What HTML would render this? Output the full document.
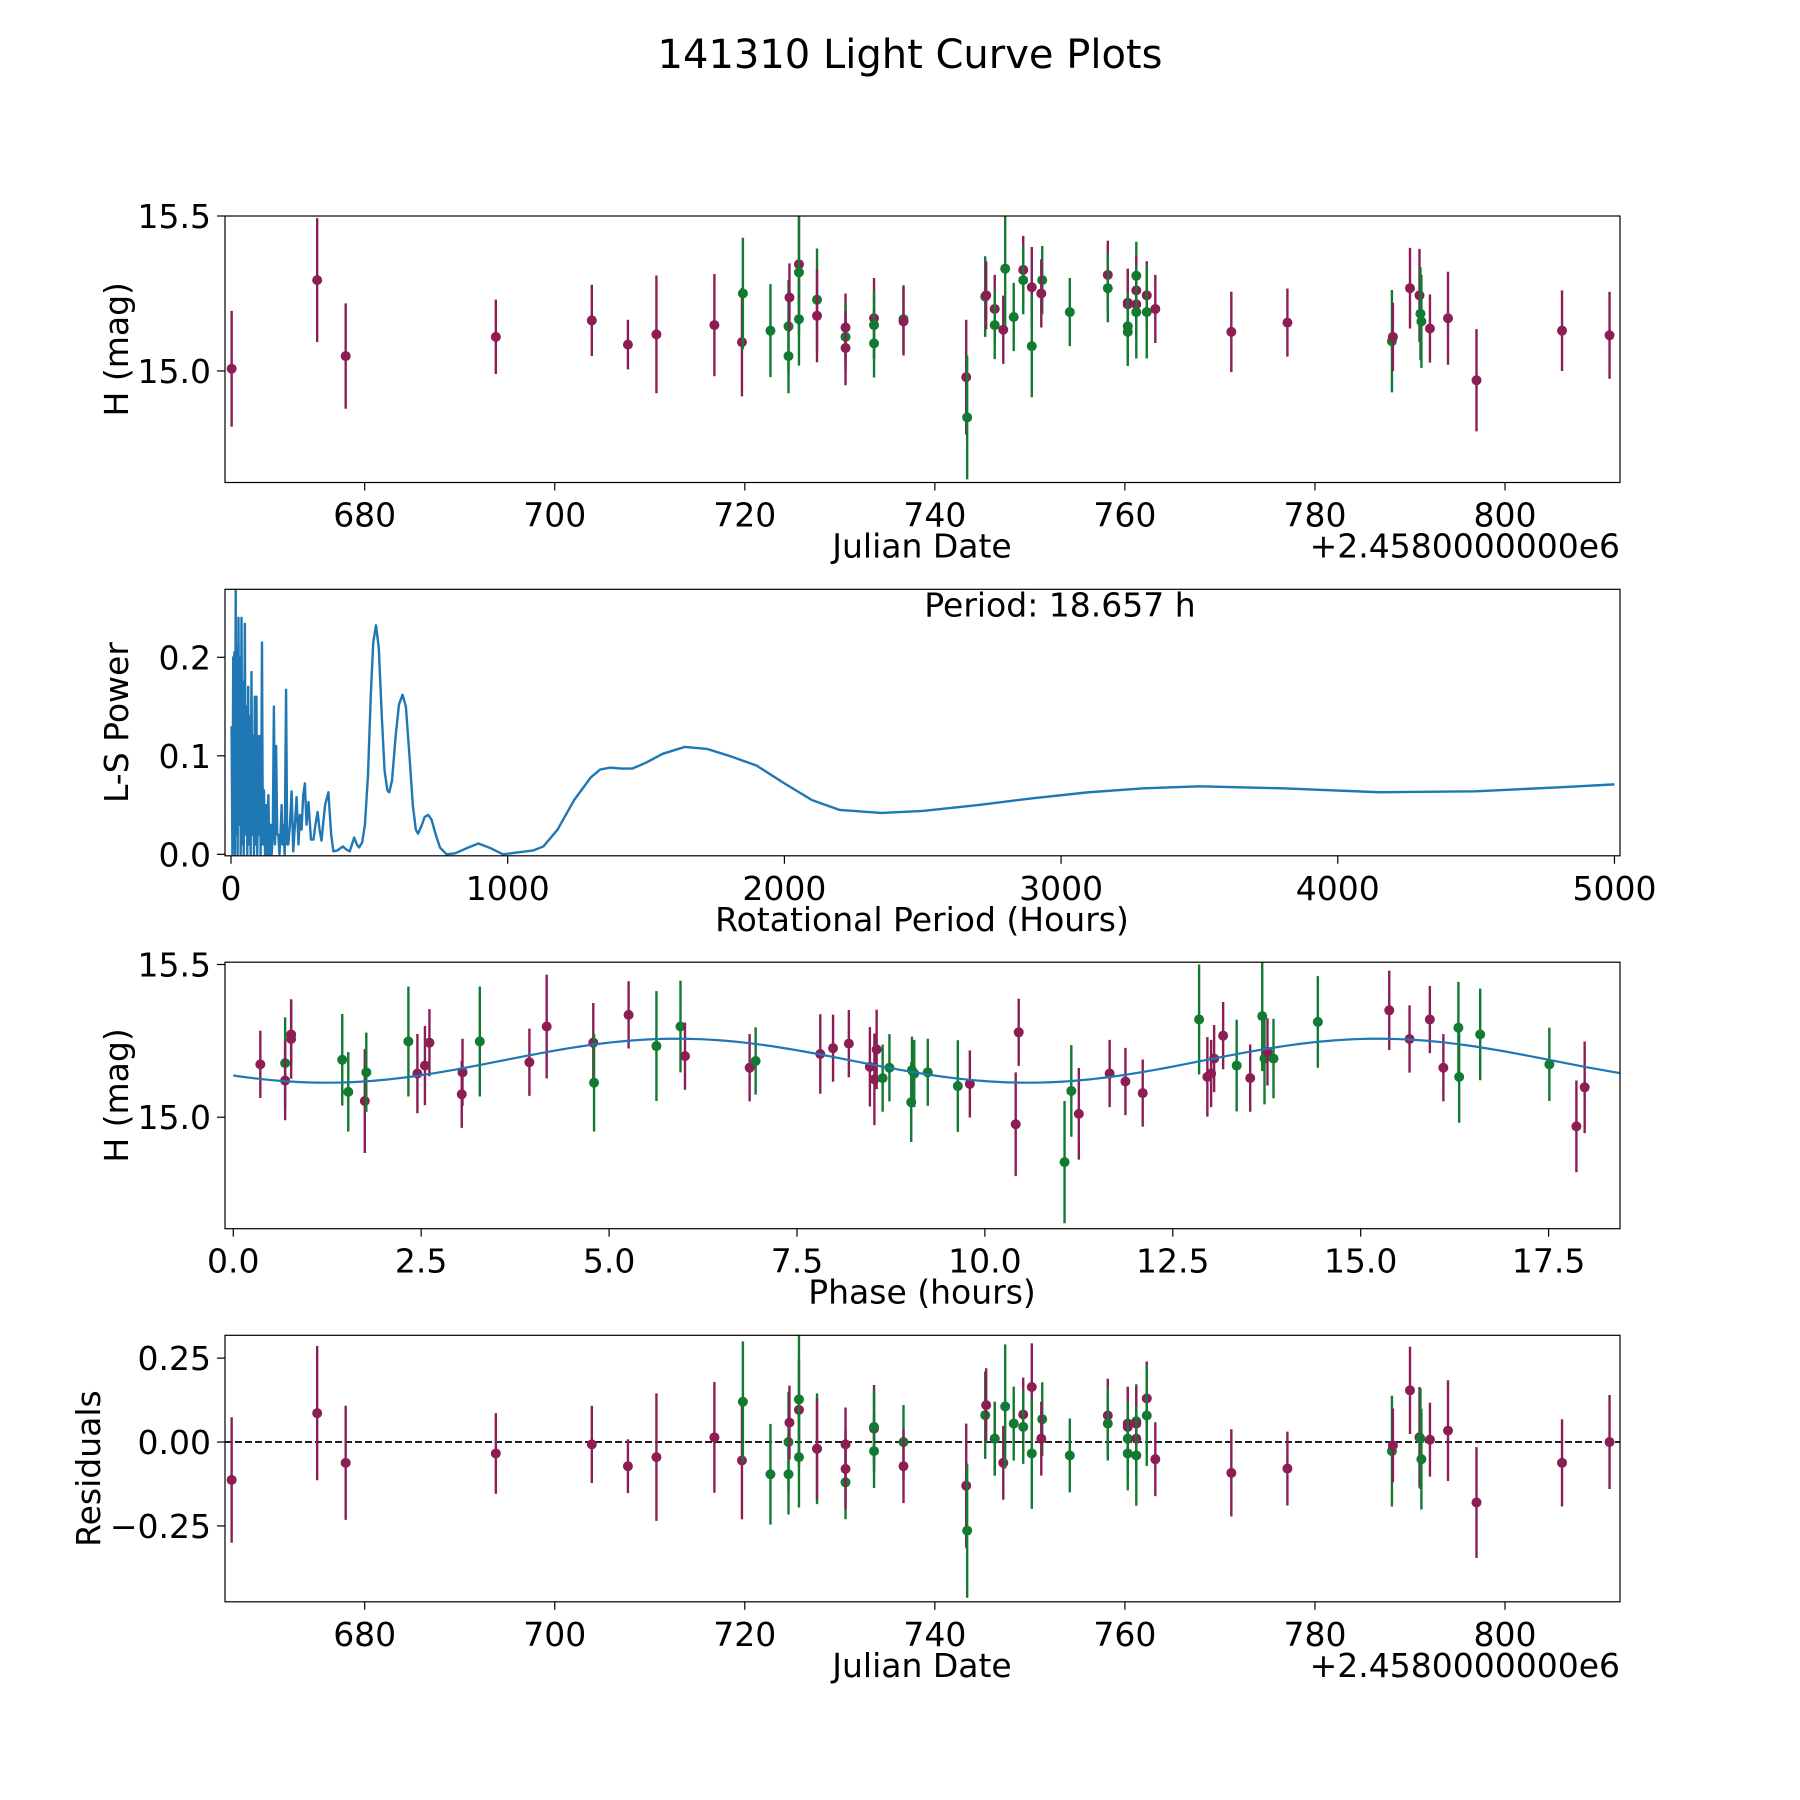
<!DOCTYPE html>
<html><head><meta charset="utf-8"><style>
html,body{margin:0;padding:0;background:#fff}
svg{display:block;font-family:"DejaVu Sans","Liberation Sans",sans-serif}
</style></head><body>
<svg id="fig" xmlns="http://www.w3.org/2000/svg" width="1800" height="1800" viewBox="0 0 1800 1800">
<rect width="1800" height="1800" fill="#fff"/>
<text x="910" y="68" font-size="40" text-anchor="middle">141310 Light Curve Plots</text>
</svg>
<script>
// ---- Panel 1 / 4 data (Julian date offset, magnitude, error, filter) ----
const jd = [666.0,675.0,678.0,693.8,703.9,707.7,710.7,716.8,719.7,719.8,722.7,724.6,724.6,724.7,725.7,725.7,725.7,727.6,727.6,730.6,730.6,730.6,733.6,733.6,733.6,736.7,736.7,743.3,743.4,745.3,745.4,746.3,746.3,747.2,747.4,748.3,749.3,749.3,750.2,750.2,751.3,751.2,754.2,758.2,758.2,760.3,760.3,760.3,760.3,761.2,761.2,761.2,761.2,762.3,762.3,763.2,771.2,777.1,788.1,788.2,790.0,791.0,791.1,791.2,792.1,794.0,797.0,806.0,811.0];
const mag = [15.007,15.293,15.048,15.11,15.163,15.085,15.118,15.148,15.093,15.25,15.13,15.144,15.048,15.237,15.344,15.318,15.167,15.23,15.178,15.14,15.11,15.074,15.17,15.148,15.089,15.167,15.16,14.98,14.85,15.24,15.244,15.2,15.148,15.133,15.33,15.174,15.326,15.293,15.27,15.08,15.293,15.25,15.19,15.31,15.267,15.22,15.215,15.144,15.126,15.307,15.26,15.215,15.19,15.244,15.19,15.2,15.126,15.156,15.096,15.11,15.267,15.244,15.185,15.16,15.137,15.17,14.97,15.13,15.115];
const magErr = [0.187,0.2,0.17,0.12,0.115,0.08,0.19,0.165,0.175,0.18,0.15,0.15,0.12,0.11,0.15,0.2,0.15,0.165,0.15,0.11,0.11,0.12,0.13,0.11,0.11,0.11,0.11,0.185,0.2,0.13,0.11,0.11,0.11,0.11,0.185,0.11,0.11,0.11,0.13,0.165,0.11,0.11,0.11,0.11,0.11,0.11,0.11,0.11,0.11,0.11,0.11,0.11,0.15,0.11,0.15,0.11,0.13,0.11,0.165,0.11,0.13,0.15,0.15,0.15,0.11,0.15,0.165,0.13,0.14];
const band = ["m","m","m","m","m","m","m","m","m","g","g","g","g","m","m","g","g","g","m","m","g","m","m","g","g","g","m","m","g","g","m","m","g","m","g","g","m","g","m","g","g","m","g","m","g","m","m","g","g","g","m","m","g","m","g","m","m","m","g","m","m","m","g","g","m","m","m","m","m"];
const resid = [-0.113,0.086,-0.062,-0.034,-0.007,-0.072,-0.045,0.014,-0.055,0.12,-0.096,0.0,-0.096,0.058,0.096,0.127,-0.045,-0.02,-0.02,-0.007,-0.12,-0.08,0.04,-0.027,0.045,0.0,-0.072,-0.13,-0.264,0.08,0.11,0.01,0.01,-0.062,0.106,0.055,0.082,0.045,0.164,-0.034,0.068,0.01,-0.04,0.079,0.055,0.055,0.045,-0.034,0.01,0.062,0.055,0.01,-0.04,0.13,0.079,-0.051,-0.092,-0.079,-0.027,-0.01,0.154,0.014,0.01,-0.051,0.007,0.034,-0.18,-0.062,0.0];
// ---- Panel 3 data (phase in hours) ----
const phase = [0.36,0.69,0.69,0.77,0.77,1.45,1.53,1.75,1.77,2.33,2.45,2.55,2.61,3.04,3.05,3.28,3.94,4.17,4.79,4.80,5.26,5.63,5.95,6.01,6.87,6.95,7.81,7.98,8.19,8.47,8.53,8.56,8.64,8.73,9.02,9.03,9.06,9.24,9.64,9.80,10.41,10.45,11.06,11.15,11.25,11.66,11.87,12.10,12.85,12.96,13.01,13.05,13.17,13.35,13.53,13.69,13.72,13.76,13.84,14.43,15.38,15.65,15.92,16.10,16.30,16.31,16.59,17.51,17.87,17.98];
const phaseMag = [15.173,15.177,15.12,15.256,15.271,15.188,15.083,15.053,15.147,15.248,15.143,15.169,15.244,15.075,15.147,15.248,15.18,15.297,15.244,15.113,15.335,15.233,15.297,15.2,15.162,15.184,15.207,15.226,15.241,15.165,15.124,15.222,15.128,15.162,15.049,15.154,15.143,15.147,15.102,15.109,14.977,15.278,14.853,15.086,15.011,15.143,15.117,15.079,15.32,15.132,15.143,15.192,15.267,15.169,15.128,15.331,15.192,15.214,15.192,15.312,15.35,15.256,15.32,15.162,15.293,15.132,15.271,15.173,14.97,15.098];
const phaseErr = [0.11,0.15,0.13,0.13,0.11,0.15,0.13,0.17,0.13,0.18,0.13,0.13,0.11,0.11,0.11,0.18,0.11,0.17,0.13,0.16,0.11,0.18,0.15,0.11,0.11,0.11,0.13,0.11,0.11,0.13,0.15,0.13,0.11,0.11,0.13,0.11,0.11,0.11,0.15,0.11,0.17,0.11,0.2,0.15,0.15,0.11,0.11,0.11,0.18,0.13,0.11,0.11,0.11,0.15,0.11,0.18,0.15,0.11,0.13,0.15,0.13,0.11,0.11,0.11,0.15,0.15,0.15,0.12,0.15,0.15];
const phaseBand = ["m","g","m","m","m","g","g","m","g","g","m","m","m","m","m","g","m","m","m","g","m","g","g","m","m","g","m","m","m","m","m","m","g","g","g","g","g","g","g","m","m","m","g","g","m","m","m","m","g","m","m","m","m","g","m","g","g","m","g","g","m","m","m","m","g","g","g","g","m","m"];
const modelMean = 15.185, modelAmp = 0.072, modelPeriod = 18.657, modelZero = 3.57;
// ---- Panel 2 periodogram ----
const lsPeriod = [
 2,5,8,10,12,14,17,19,22,24,
 27,30,33,35,38,41,44,46,50,53,
 56,59,62,65,68,71,74,77,80,83,
 86,89,92,95,98,101,104,107,110,112,
 115,119,123,127,131,135,139,143,147,151,
 155,159,163,167,171,175,179,183,186,189,
 194,199,203,207,213,219,225,231,237,244,
 249,255,261,267,273,280,289,298,305,313,
 320,327,340,352,362,370,385,404,416,429,
 437,445,455,463,474,484,495,505,514,524,
 534,545,555,565,572,582,595,607,620,632,
 645,657,668,676,690,700,713,725,740,755,
 779,810,850,894,940,983,1040,1093,1129,1180,
 1240,1300,1334,1370,1410,1450,1500,1560,1640,1720,
 1800,1900,2000,2100,2200,2350,2500,2700,2900,3100,
 3300,3500,3800,4150,4500,4800,5000];
const lsPower = [
 0.13,0,0.2,0.01,0.205,0,0.27,0.02,0.21,0,
 0.24,0.03,0.2,0,0.24,0.01,0.175,0,0.234,0.02,
 0.15,0,0.17,0.01,0.14,0,0.185,0.02,0.12,0,
 0.16,0.01,0.16,0,0.12,0.02,0.12,0,0.1,0.215,
 0.01,0.065,0,0.05,0,0.06,0,0.03,0,0.02,
 0.15,0.01,0.11,0.02,0.02,0,0.02,0.05,0.01,0.03,
 0,0.167,0.01,0.01,0.03,0.064,0.003,0.03,0.058,0.01,
 0.04,0.025,0.06,0.072,0.03,0.053,0.015,0.015,0.03,0.043,
 0.025,0.014,0.05,0.063,0.02,0.003,0.004,0.008,0.005,0.003,
 0.01,0.017,0.01,0.007,0.012,0.03,0.08,0.16,0.215,0.2325,
 0.21,0.14,0.085,0.065,0.063,0.075,0.12,0.152,0.162,0.15,
 0.1,0.05,0.025,0.021,0.03,0.038,0.04,0.035,0.02,0.007,
 0,0.001,0.006,0.011,0.006,0,0.002,0.004,0.008,0.025,
 0.055,0.078,0.086,0.088,0.087,0.087,0.093,0.102,0.109,0.107,
 0.1,0.09,0.072,0.055,0.045,0.042,0.044,0.05,0.057,0.063,
 0.067,0.069,0.067,0.063,0.064,0.068,0.071];
// ---- ticks ----
const jdTicks = [680,700,720,740,760,780,800];
const magTicks = [15.0,15.5];
const magTickLabels = ["15.0","15.5"];
const lsXTicks = [0,1000,2000,3000,4000,5000];
const lsYTicks = [0.0,0.1,0.2];
const lsYTickLabels = ["0.0","0.1","0.2"];
const phaseTicks = [0,2.5,5,7.5,10,12.5,15,17.5];
const phaseTickLabels = ["0.0","2.5","5.0","7.5","10.0","12.5","15.0","17.5"];
const residTicks = [-0.25,0,0.25];
const residTickLabels = ["\u22120.25","0.00","0.25"];
const COLORS = {m:"#8c1e55", g:"#127a31"};

const NS = "http://www.w3.org/2000/svg";
const svg = document.getElementById("fig");
function el(tag, attrs, parent){const e=document.createElementNS(NS,tag);for(const k in attrs)e.setAttribute(k,attrs[k]);(parent||svg).appendChild(e);return e;}

const L=225, R=1620, H=266.5;
function makeAxes(top, xmin, xmax, ymin, ymax){
  return {top, bot:top+H, x:v=>L+(v-xmin)/(xmax-xmin)*(R-L), y:v=>top+H-(v-ymin)/(ymax-ymin)*H};
}
const ax1 = makeAxes(216, 665.3, 812.1, 14.64, 15.5);
const ax2 = makeAxes(589.3, -21.7, 5020, -0.0015, 0.269);
const ax3 = makeAxes(962.2, -0.11, 18.45, 14.635, 15.5075);
const ax4 = makeAxes(1335.3, 665.3, 812.1, -0.476, 0.318);

function frame(ax, name){
  const r = el("rect",{x:L,y:ax.top,width:R-L,height:H,fill:"none",stroke:"#000","stroke-width":1.2});
  
  
}
function xticks(ax, vals, labels, name){
  vals.forEach((v,i)=>{
    const X=ax.x(v);
    const t=el("line",{x1:X,x2:X,y1:ax.bot,y2:ax.bot+8,stroke:"#000","stroke-width":1.2});
    
    
    const tx=el("text",{x:X,y:ax.bot+44,"font-size":33,"text-anchor":"middle"});
    
    
    tx.textContent = labels? labels[i] : String(v);
  });
}
function yticks(ax, vals, labels, name){
  vals.forEach((v,i)=>{
    const Y=ax.y(v);
    const t=el("line",{x1:L-8,x2:L,y1:Y,y2:Y,stroke:"#000","stroke-width":1.2});
    
    
    const tx=el("text",{x:L-14,y:Y+12,"font-size":33,"text-anchor":"end"});
    
    
    tx.textContent = labels[i];
  });
}
function label(x,y,txt,name,rot,anchor){
  const t=el("text",{x,y,"font-size":33,"text-anchor":anchor||"middle"});
  if(rot) t.setAttribute("transform",`rotate(-90 ${x} ${y})`);
  
  
  t.textContent=txt;
}
function clip(ax,id){
  const cp=el("clipPath",{id});
  el("rect",{x:L,y:ax.top,width:R-L,height:H},cp);
  const g=el("g",{"clip-path":`url(#${id})`});
  return g;
}

// Panel 1
{
  const g=clip(ax1,"c1");
  jd.forEach((v,i)=>{
    const col=COLORS[band[i]];
    const X=ax1.x(v);
    const ln=el("line",{x1:X,x2:X,y1:ax1.y(mag[i]-magErr[i]),y2:ax1.y(mag[i]+magErr[i]),stroke:col,"stroke-width":2.4},g);
    
    
    const c=el("circle",{cx:X,cy:ax1.y(mag[i]),r:5,fill:col},g);
    
    
  });
  frame(ax1,"lightcurve-axes");
  xticks(ax1,jdTicks,null,"lightcurve-x");
  yticks(ax1,magTicks,magTickLabels,"lightcurve-y");
  label(922,ax1.bot+75,"Julian Date","lightcurve-x-title");
  label(R,ax1.bot+75,"+2.4580000000e6","lightcurve-x-offset",false,"end");
  label(128,ax1.top+H/2,"H (mag)","lightcurve-y-title",true);
}
// Panel 2
{
  const g=clip(ax2,"c2");
  const pts=lsPeriod.map((p,i)=>ax2.x(p).toFixed(2)+","+ax2.y(lsPower[i]).toFixed(2)).join(" ");
  const pl=el("polyline",{points:pts,fill:"none",stroke:"#1f77b4","stroke-width":2.4,"stroke-linejoin":"round"},g);
  
  
  frame(ax2,"periodogram-axes");
  xticks(ax2,lsXTicks,null,"periodogram-x");
  yticks(ax2,lsYTicks,lsYTickLabels,"periodogram-y");
  label(922,ax2.bot+75,"Rotational Period (Hours)","periodogram-x-title");
  label(128,ax2.top+H/2,"L-S Power","periodogram-y-title",true);
  label(1060,ax2.top+27,"Period: 18.657 h","period-annotation");
}
// Panel 3
{
  const g=clip(ax3,"c3");
  phase.forEach((v,i)=>{
    const col=COLORS[phaseBand[i]];
    const X=ax3.x(v);
    const ln=el("line",{x1:X,x2:X,y1:ax3.y(phaseMag[i]-phaseErr[i]),y2:ax3.y(phaseMag[i]+phaseErr[i]),stroke:col,"stroke-width":2.4},g);
    
    
    const c=el("circle",{cx:X,cy:ax3.y(phaseMag[i]),r:5,fill:col},g);
    
    
  });
  let pts=[];
  for(let k=0;k<=200;k++){const p=k/200*modelPeriod;const m=modelMean+modelAmp*Math.sin(2*Math.PI*2*(p-modelZero)/modelPeriod);pts.push(ax3.x(p).toFixed(2)+","+ax3.y(m).toFixed(2));}
  const pl=el("polyline",{points:pts.join(" "),fill:"none",stroke:"#1f77b4","stroke-width":2.2},g);
  
  
  frame(ax3,"phased-axes");
  xticks(ax3,phaseTicks,phaseTickLabels,"phased-x");
  yticks(ax3,magTicks,magTickLabels,"phased-y");
  label(922,ax3.bot+75,"Phase (hours)","phased-x-title");
  label(128,ax3.top+H/2,"H (mag)","phased-y-title",true);
}
// Panel 4
{
  const g=clip(ax4,"c4");
  const zl=el("line",{x1:L,x2:R,y1:ax4.y(0),y2:ax4.y(0),stroke:"#000","stroke-width":1.8,"stroke-dasharray":"7,3"},g);
  
  
  jd.forEach((v,i)=>{
    const col=COLORS[band[i]];
    const X=ax4.x(v);
    const ln=el("line",{x1:X,x2:X,y1:ax4.y(resid[i]-magErr[i]),y2:ax4.y(resid[i]+magErr[i]),stroke:col,"stroke-width":2.4},g);
    
    
    const c=el("circle",{cx:X,cy:ax4.y(resid[i]),r:5,fill:col},g);
    
    
  });
  frame(ax4,"residuals-axes");
  xticks(ax4,jdTicks,null,"residuals-x");
  yticks(ax4,residTicks,residTickLabels,"residuals-y");
  label(922,ax4.bot+75,"Julian Date","residuals-x-title");
  label(R,ax4.bot+75,"+2.4580000000e6","residuals-x-offset",false,"end");
  label(100,ax4.top+H/2,"Residuals","residuals-y-title",true);
}
</script>
</body></html>
